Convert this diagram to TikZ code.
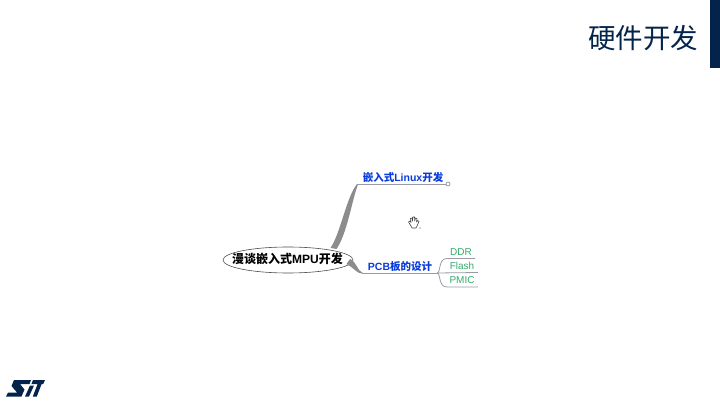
\documentclass[tikz,border=0pt]{standalone}
\usepackage{fontspec}
\usetikzlibrary{shapes.geometric}
\setmainfont{Liberation Sans}
\newfontfamily\cjk{Noto Sans CJK SC}
\definecolor{stnavy}{HTML}{03234B}
\definecolor{branchgray}{HTML}{8C8C8C}
\definecolor{linegray}{HTML}{9A9AA6}
\definecolor{topicblue}{HTML}{0A3CDC}
\definecolor{leafgreen}{HTML}{35A96B}
\tikzset{
  topic/.style={text=topicblue,font=\fontsize{10.5}{12}\selectfont\bfseries,inner sep=0pt},
  leaf/.style={text=leafgreen,font=\fontsize{10}{12}\selectfont,inner sep=0pt},
  thin line/.style={draw=linegray,line width=0.8pt},
  taper/.style={fill=branchgray,draw=none}
}
\begin{document}
\begin{tikzpicture}[x=1pt,y=-1pt]
\useasboundingbox (0,0) rectangle (720,403);
% title and bar
\fill[stnavy] (710,0) rectangle (720,68);
\node[text=stnavy,font=\fontsize{27.5}{30}\selectfont\cjk,inner sep=0pt] (title) at (643,38) {硬件开发};
% map
\node[font=\fontsize{12}{14}\selectfont\bfseries,inner sep=0pt] (root) at (287.5,259) {{\cjk 漫谈嵌入式}MPU{\cjk 开发}};
\draw[black!70,line width=0.6pt] (288,260) ellipse (65 and 13);
\node[topic] (linux) at (403,177) {{\cjk 嵌入式}Linux{\cjk 开发}};
\node[topic] (pcb) at (400,266.5) {PCB{\cjk 板的设计}};
\node[leaf] (ddr) at (461,252) {DDR};
\node[leaf] (flash) at (462,266) {Flash};
\node[leaf] (pmic) at (462,280) {PMIC};
\coordinate (linuxin) at (357,184);
\coordinate (linuxend) at (446,184);
\coordinate (pcbin) at (363,273);
\coordinate (pcbend) at (437,273);
\coordinate (ddrend) at (475,258.5);
\coordinate (flashend) at (478,272.5);
\coordinate (pmicend) at (478,287);
\fill[taper] (330.5,248) .. controls (341,232) and (346,198) .. (linuxin) -- (358,184.5) .. controls (352,200) and (347,234) .. (336.5,249) -- cycle;
\fill[taper] (350,259) .. controls (356,261) and (358,272) .. (pcbin) -- (363,273.8) .. controls (357,274) and (353,267) .. (346.5,264) -- cycle;
\draw[thin line] (linuxin) -- (linuxend);
\draw[thin line,fill=white] (448,184) circle (2);
\draw[thin line] (pcbin) -- (pcbend);
\draw[thin line] (pcbend) .. controls (441,273) and (438,258.5) .. (447,258.5) -- (ddrend);
\draw[thin line] (pcbend) -- (flashend);
\draw[thin line] (pcbend) .. controls (441,273) and (438,287) .. (447,287) -- (pmicend);
% hand cursor
\draw[black!75,line width=0.6pt,line join=round,fill=white] (411,226) -- (408.5,222) -- (410,221) -- (411,222.5) -- (410.5,218.5) -- (412,218) -- (412.5,221) -- (412.8,217) -- (414.5,217) -- (414.7,221) -- (415.5,218) -- (417,218.5) -- (416.5,222) -- (418,220.5) -- (419,221.5) -- (417,226) -- (416,228) -- (412,228) -- cycle;
\fill[black!75] (420,228) circle (0.7);
% logo
\fill[stnavy] (14,380) -- (31,380) -- (29.5,384) -- (20,384) -- (24.5,389.5) -- (21.5,396.5) -- (6,396.5) -- (8,392.5) -- (17,392.5) -- (11.5,386) -- cycle;
\fill[stnavy] (25,396.5) -- (30,385.5) -- (34,385.5) -- (29,396.5) -- cycle;
\fill[stnavy] (33,380) -- (45,380) -- (43.2,384) -- (41.6,384) -- (36.8,396.5) -- (32.8,396.5) -- (37.6,384) -- (31.4,384) -- cycle;
\end{tikzpicture}
\end{document}
